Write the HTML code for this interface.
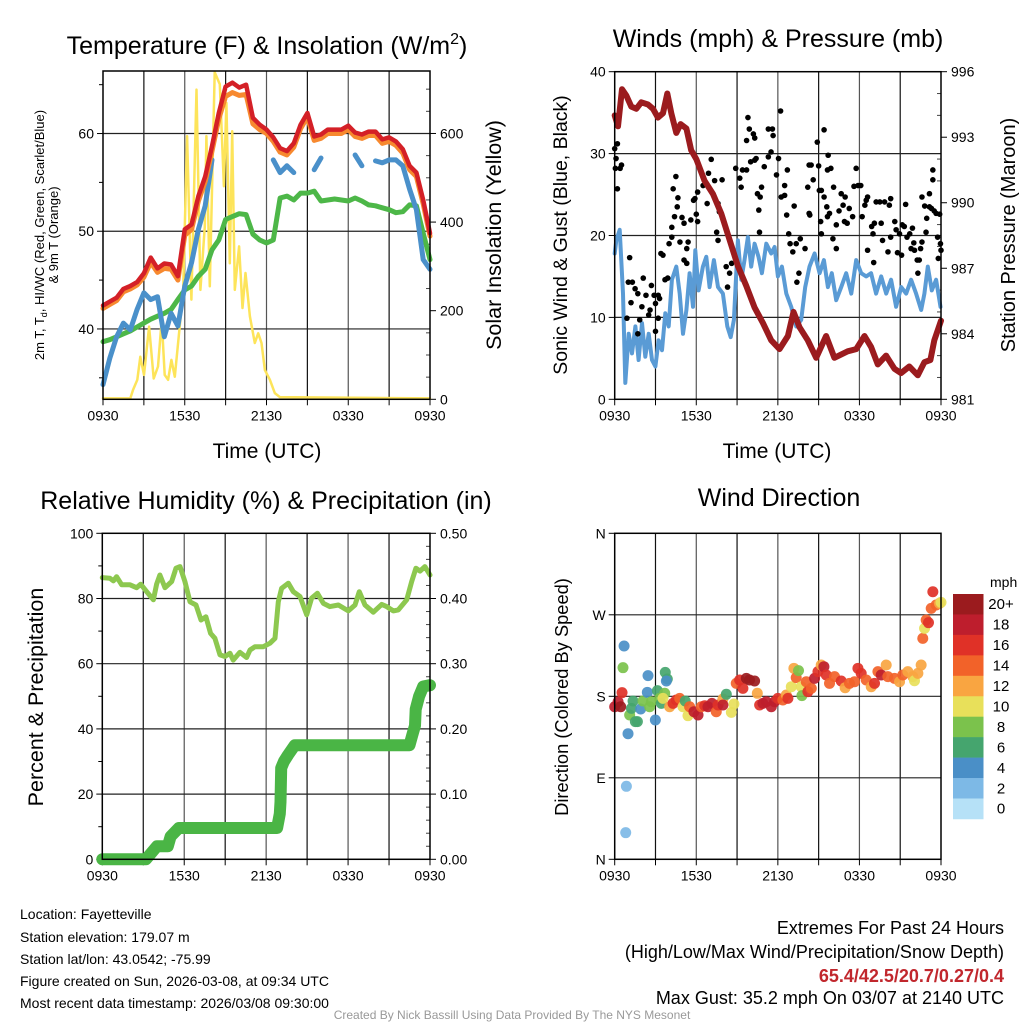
<!DOCTYPE html>
<html><head><meta charset="utf-8"><style>
html,body{margin:0;padding:0;background:#fff}
svg{display:block;font-family:"Liberation Sans",Arial,sans-serif}
</style></head><body>
<svg id="c" width="1024" height="1024" viewBox="0 0 1024 1024" xmlns="http://www.w3.org/2000/svg">
<rect width="1024" height="1024" fill="#fff"/>
<text x="267" y="54" font-size="25" text-anchor="middle">Temperature (F) &amp; Insolation (W/m<tspan dy="-10" font-size="16">2</tspan><tspan dy="10">)</tspan></text>
<text x="778" y="47" font-size="25" text-anchor="middle">Winds (mph) &amp; Pressure (mb)</text>
<text x="266" y="509" font-size="25" text-anchor="middle">Relative Humidity (%) &amp; Precipitation (in)</text>
<text x="779" y="506" font-size="25" text-anchor="middle">Wind Direction</text>

<text x="267" y="458" font-size="21" text-anchor="middle">Time (UTC)</text>
<text x="777" y="458" font-size="21" text-anchor="middle">Time (UTC)</text>

<g transform="translate(44,235) rotate(-90)">
<text x="0" y="0" font-size="13" text-anchor="middle">2m T, T<tspan font-size="9" dy="3">d</tspan><tspan dy="-3">, HI/WC (Red, Green, Scarlet/Blue)</tspan></text>
<text x="0" y="14" font-size="13" text-anchor="middle">&amp; 9m T (Orange)</text>
</g>
<text transform="translate(501,235) rotate(-90)" font-size="21.5" text-anchor="middle">Solar Insolation (Yellow)</text>
<text transform="translate(567,235) rotate(-90)" font-size="19.5" text-anchor="middle">Sonic Wind &amp; Gust (Blue, Black)</text>
<text transform="translate(1015,235) rotate(-90)" font-size="20" text-anchor="middle">Station Pressure (Maroon)</text>
<text transform="translate(43,697) rotate(-90)" font-size="21.5" text-anchor="middle">Percent &amp; Precipitation</text>
<text transform="translate(568,697) rotate(-90)" font-size="18.3" text-anchor="middle">Direction (Colored By Speed)</text>

<g font-size="14">
<text x="20" y="919">Location: Fayetteville</text>
<text x="20" y="942">Station elevation: 179.07 m</text>
<text x="20" y="964">Station lat/lon: 43.0542; -75.99</text>
<text x="20" y="986">Figure created on Sun, 2026-03-08, at 09:34 UTC</text>
<text x="20" y="1008">Most recent data timestamp: 2026/03/08 09:30:00</text>
</g>
<g font-size="18" text-anchor="end">
<text x="1004" y="934">Extremes For Past 24 Hours</text>
<text x="1004" y="958">(High/Low/Max Wind/Precipitation/Snow Depth)</text>
<text x="1004" y="982" fill="#C1272D" font-weight="bold">65.4/42.5/20.7/0.27/0.4</text>
<text x="1004" y="1004">Max Gust: 35.2 mph On 03/07 at 2140 UTC</text>
</g>
<text x="512" y="1019" font-size="12" fill="#999" text-anchor="middle">Created By Nick Bassill Using Data Provided By The NYS Mesonet</text>
</svg>
<script>
// ---------- data ----------
const timeTickLabels = ["0930","1530","2130","0330","0930"];
const tempHours = [0,0.5,1,1.5,2,2.5,3,3.5,4,4.5,5,5.5,6,6.5,7,7.5,8,8.5,9,9.5,10,10.5,11,11.5,12,12.5,13,13.5,14,14.5,15,15.5,16,16.5,17,17.5,18,18.5,19,19.5,20,20.5,21,21.5,22,22.5,23,23.5,24];
const temp2m = [42.4,42.8,43.2,44.1,44.4,44.8,45.7,47.3,46.2,46.7,46.6,45.4,50.2,50.7,53.6,55.6,58.7,62.1,64.8,65.2,64.7,65,61.6,60.9,60.4,59.6,58.5,58.2,59,60.9,62.1,59.7,59.9,60.4,60.4,60.4,60.8,60.1,59.9,60.2,60.2,59.4,59.6,59.2,58.4,56.7,56,53.2,49.8];
const temp9m = [42.1,42.5,42.9,43.8,44.1,44.5,45.3,46.8,45.8,46.2,46.1,45.0,49.6,50.2,53.1,55.1,58.2,61.5,63.8,64.2,63.9,64,61,60.4,60.0,59.2,58.1,57.8,58.6,60.5,61.7,59.3,59.5,60.0,60.0,60.0,60.4,59.7,59.5,59.8,59.8,59.0,59.2,58.8,58.0,56.3,55.6,52.8,49.5];
const heatWindChill = [34.3,37,39.2,40.6,39.9,42,43.7,43,43.3,39.2,41.6,40.3,44.4,46.8,50.2,52.6,57.3,null,null,null,null,null,null,null,null,57.3,56,56.7,56,null,null,56.3,57.5,null,null,null,null,57.8,56.7,null,57.2,57.0,57.3,57.3,56.7,54.3,52.2,47.1,46.1];
const dewpoint = [38.7,38.9,39.2,39.5,39.8,40.2,40.6,41,41.3,41.6,42,43,44,44.4,45.4,46.1,48.1,49.1,51.2,51.5,51.8,51.7,49.7,49.1,48.8,49.1,53.4,53.6,53.2,53.9,53.9,54.1,53.1,53.2,53.3,53.2,53.1,53.4,53.1,52.7,52.6,52.4,52.2,51.9,52.0,52.7,52.6,49.8,47.1];
const solarHours = [0,2.0,2.2,2.52,2.74,3.01,3.38,3.72,4.04,4.31,4.53,4.78,5.02,5.27,5.63,5.88,6.17,6.49,6.86,7.15,7.47,7.59,7.84,8.2,8.57,8.87,9.06,9.31,9.48,9.67,9.99,10.24,10.46,10.78,11.14,11.39,11.63,11.88,12.25,12.61,12.98,24];
const solarWatts = [2,2,21,44,96,55,164,47,74,179,55,44,89,51,164,240,594,225,699,247,390,594,255,738,711,481,669,307,605,247,345,206,285,187,127,149,127,66,44,14,5,2];
const pressHours = [0,0.24,0.54,0.86,1.22,1.59,1.96,2.45,2.82,3.18,3.55,3.87,4.16,4.53,4.85,5.27,5.63,6.0,6.61,7.23,7.84,8.45,9.06,9.67,10.29,10.9,11.51,12.12,12.74,13.15,13.59,14.2,14.82,15.55,16.16,17.14,17.76,18.37,18.86,19.35,19.96,20.57,21.06,21.67,22.29,22.78,23.22,23.51,24];
const pressure = [994.0,993.5,995.2,994.9,994.4,994.3,994.6,994.5,994.3,993.9,994.1,995.0,994.1,993.2,993.6,993.4,992.4,992.0,991.0,990.4,989.5,988.3,987.1,986.2,985.2,984.5,983.7,983.3,983.9,985.0,984.3,983.7,982.9,983.9,982.9,983.2,983.3,983.9,983.4,982.6,983.0,982.4,982.2,982.5,982.1,982.7,982.8,983.7,984.6];
const windHours = [0,0.12,0.37,0.61,0.78,1.03,1.27,1.52,1.76,2.01,2.25,2.5,2.74,2.99,3.23,3.48,3.72,3.97,4.21,4.53,4.78,5.02,5.27,5.51,5.76,5.93,6.17,6.49,6.74,6.98,7.3,7.6,7.96,8.28,8.53,8.77,9.06,9.31,9.55,9.8,10.04,10.29,10.58,10.83,11.15,11.51,11.76,12.0,12.3,12.62,12.98,13.35,13.72,14.01,14.33,14.7,15.07,15.39,15.68,15.97,16.29,16.66,17.03,17.4,17.76,18.13,18.5,18.86,19.23,19.6,19.97,20.33,20.7,21.07,21.44,21.8,22.17,22.54,22.78,23.03,23.32,23.64,23.96];
const windSpeed = [17.8,19.4,20.7,12.9,2,8,5.6,8.9,4.8,9.3,5.2,8,4.8,4,7.2,6,10.5,8.9,14.6,16.2,12.9,8,10.9,15.4,11.3,18.2,13.3,16.2,17.4,13.7,17,13.7,12.9,8.9,7.6,9.7,19.4,14.6,17,19.8,16.2,19,17.4,15.4,19,17.8,18.6,15,16.2,12.9,11.3,8.9,9.7,13.7,16.2,17.8,15.4,17,13.7,15.4,12.1,13.7,15.4,12.9,17,15.4,15,15.4,12.9,15,12.9,14.6,11.3,13.7,12.9,14.6,12.9,10.9,12.9,16.2,13.3,14.6,11.3];
const gustHours = [0,0.1,0.2,0.2,0.05,0.5,0.4,1.1,1,1.3,0.9,1.2,1.5,1.7,1.84,1.7,2,2.1,2.3,2.6,2.5,2.7,2.9,3.2,3.3,3,3.2,3,3.4,3.55,3.7,3.9,4,4.2,4.3,4.5,4.65,4.6,4.4,4.2,4.8,4.95,5.1,5.4,5.3,5.1,5.3,5.8,5.9,6.1,6,6.1,5.6,6.5,6.6,6.9,6.8,7.1,7.35,7.6,7.5,7.6,7.7,7.9,8.2,8.45,8.3,8.6,8.9,9.2,9.3,9.4,9.7,9.8,9.9,10.2,10.3,9.7,10.3,10,10.4,10.5,10.7,10.8,10.65,10.6,11,11.3,11.6,11.65,11.5,11.3,11.9,12.05,12.2,12.25,12.5,12.5,12.7,12.65,12.9,12.8,13.1,13.2,13.35,13.65,13.4,13.55,14,14.2,14.3,14.45,14.35,14.3,14.6,14.9,15,15.05,15.2,15.4,15.6,15.15,15.2,15.4,15.7,15.9,15.65,15.8,15.65,16.05,16.3,16.1,16.3,16.5,16.66,16.8,16.95,16.9,17.1,17.25,17.5,17.6,17.76,17.9,18.1,18.2,18.4,18.5,18.6,18.6,18.9,19,19.05,19.1,19.23,19.5,19.6,19.7,19.85,20.1,20.2,20.3,20.3,20.6,20.7,20.8,20.95,21.1,21.15,21.3,21.4,21.5,21.7,21.8,21.9,22,22.05,22.25,22.3,22.4,22.5,22.6,22.6,22.8,22.9,23.15,22.95,23.15,23.4,23.4,23.3,23.5,23.64,23.9,23.75,23.8,23.96,24];
const gustSpeed = [30.6,29.4,31.2,25.7,28.2,28.6,28.2,17.3,14.3,14.3,9.9,11.8,13.5,12.9,9.7,8,11.3,14.8,12.7,10.9,10.3,13.9,12.7,12.7,12.3,11.7,9.9,8.3,17.8,17.6,14.6,14.8,19,19.8,25.7,27.2,24.6,23.5,22.3,21,19.2,22.2,21.5,19.2,18.4,17,16.6,24.3,24.5,25.3,22.6,21.7,21.9,26.1,26.7,27.6,23.9,29.3,26.7,23.9,20.4,19.4,22.9,26.8,16.2,15.4,13.7,16.6,28.2,27,25.9,28,28,34.4,33,32.4,31.9,31.6,29.2,29,29.4,25.1,24.7,25.9,20.4,23.1,28.4,33,33,32.2,30.2,29.6,27.4,29.4,35.2,24.7,24.9,26.1,28,22.5,19,20.2,18,23.6,19,19.6,14.3,15.4,18.4,25.9,28.6,28.6,22.5,22.7,26.8,31.4,28.5,25.5,25.5,24.7,23.5,21.7,20.2,32.9,29.8,28.2,28,22.7,22.3,19.6,18.4,25.9,21.3,23,25.1,23.7,24.7,21.7,21.5,23.3,22.3,26,28.2,26.1,26.1,22.3,23.7,24.3,24.7,18.2,21.1,20.2,16.7,21.5,24.1,24.1,21.5,19.4,24.1,18,23.7,24.5,19.8,21.7,20.7,17.9,20.2,17.6,21.3,21.1,23.8,19.8,20.2,18.4,20.9,19.1,18.2,17,15.4,17,18.4,19.2,24.7,23.6,20.4,25.1,22.1,23.5,28,26.8,23.3,23,22.7,22.6,19.8,17.2,19,18.2];
const rhHours = [0,0.56,0.81,1.05,1.42,2.03,2.51,2.81,3.25,3.74,3.98,4.22,4.59,5.08,5.4,5.69,6.05,6.42,6.86,7.23,7.59,7.93,8.25,8.62,8.98,9.35,9.59,10.08,10.57,10.82,11.18,11.79,12.28,12.65,12.89,13.13,13.62,13.99,14.48,14.97,15.33,15.75,16.19,16.67,17.29,18.02,18.51,18.82,19.24,19.85,20.46,20.83,21.31,21.68,22.29,22.66,22.97,23.27,23.63,24];
const relHumidity = [86.4,86.2,85.4,86.7,84.2,84.2,83.3,84.4,82.1,79.6,84.4,87.2,83.3,85.2,89.3,89.8,85.2,79,78,73.4,74.4,69.3,67.8,62.7,62.2,63.2,61.1,63.5,61.9,64.2,65.2,65.2,66.3,67.8,79,83.1,84.7,82.1,80.6,75,80.1,81.6,78.5,77.5,78,76.2,78,82.1,78,75.8,78.2,77.5,76.2,76.5,79.6,85.2,89.3,88.4,89.8,87.2];
const precipHours = [0,3.2,3.6,4.0,4.8,5.0,5.6,12.8,13.0,13.05,13.1,13.3,13.6,14.1,22.5,22.7,22.9,22.95,23.2,23.5,24];
const precipInches = [0,0,0.01,0.02,0.02,0.035,0.048,0.048,0.07,0.088,0.14,0.15,0.16,0.175,0.175,0.19,0.205,0.23,0.25,0.265,0.267];
const dirHours = [0,0.25,0.44,0.54,0.69,0.61,0.98,0.86,0.81,1.1,1.23,1.35,1.67,1.52,1.91,2.08,2.4,2.45,2.57,2.7,2.99,3.14,3.31,3.43,3.68,3.72,3.87,3.8,3.55,4.04,4.29,4.53,4.78,5.02,5.19,5.39,5.51,5.83,6.13,6.37,6.62,6.86,7.15,7.47,7.6,7.96,8.21,7.96,8.58,8.77,8.94,9.19,9.43,9.68,9.92,10.29,10.49,10.66,10.9,11.15,11.52,11.76,12.0,12.37,12.62,12.74,12.99,13.18,13.35,13.52,13.72,13.77,14.09,14.21,14.46,14.7,14.95,15.19,15.39,15.56,15.8,16.17,16.66,16.95,17.27,17.64,17.89,18.13,18.5,18.87,19.11,19.36,19.6,19.97,20.09,20.58,20.95,21.19,21.56,21.93,22.05,22.3,22.54,22.66,22.79,22.91,23.08,23.28,23.4,23.64,23.89,24];
const dirDegrees = [168.5,174,168.5,184,235.5,211.6,138.7,80.6,29.4,159.3,166.7,174.8,152,152,166,174.8,184.4,202.8,168.5,174,153.8,186.2,177.7,172.2,183.3,206.4,199.1,196.9,177.7,168.5,172.2,175.9,177.7,168.5,174.8,158.6,168.5,163,159.3,168.5,169.6,168.5,172.2,163,170.4,177,182.2,170.4,162.3,171.5,194.3,198,188.8,199.8,198,196.9,183.3,170.4,172.2,174,168.5,174,177.7,175.9,181.4,177.7,190.6,210.9,200.6,208.3,190.6,180.7,196.1,185.1,188.8,199.8,207.2,214.5,212.7,203.5,194.3,201.7,196.9,189.5,194.3,196.1,210.9,205.3,198,190.6,194.3,207.2,203.5,214.5,201.7,199.8,196.1,203.5,207.2,201.7,197.2,205.3,214.5,244,255,264.2,261.3,277.1,295.5,280.8,282.6,283.7];
const dirSpeed = [18,18,20,16,4,8,4,2,2,8,6,6,6,6,4,8,4,4,8,8,4,6,8,6,8,6,6,4,10,12,16,16,14,10,6,10,14,18,18,14,16,18,18,14,16,12,6,18,10,10,14,16,16,20,20,20,12,16,18,18,18,18,16,14,12,16,10,12,14,8,10,8,14,16,14,18,16,12,18,16,14,14,16,12,14,14,16,16,14,12,16,14,18,12,14,14,12,14,12,12,10,12,12,14,10,14,16,14,16,14,12,10];
const speedBinLabels = ["0","2","4","6","8","10","12","14","16","18","20+"];
const speedBinColors = ["#B6E1F7","#7DB9E6","#4A8FC7","#45A56E","#7BC24C","#E8E05A","#F9A541","#F26229","#E03127","#BE1E2D","#9B1B1E"];

// ---------- helpers ----------
const NS="http://www.w3.org/2000/svg";
const svg=document.getElementById('c');
function mk(tag,attrs,parent){const e=document.createElementNS(NS,tag);for(const k in attrs)e.setAttribute(k,attrs[k]);(parent||svg).appendChild(e);return e;}
function lin(d0,d1,r0,r1){return v=>r0+(v-d0)/(d1-d0)*(r1-r0);}
function pathFrom(xs,ys,sx,sy){let d="",pen=false;for(let i=0;i<xs.length;i++){if(ys[i]===null){pen=false;continue;}d+=(pen?"L":"M")+sx(xs[i]).toFixed(1)+","+sy(ys[i]).toFixed(1);pen=true;}return d;}

function panel(P,name){
  const g=mk('g',{});
  
  
  const sx=lin(0,24,P.x0,P.x1);
  for(let h=3;h<24;h+=3){const l=mk('line',{x1:sx(h),x2:sx(h),y1:P.top,y2:P.bot,stroke:(h%6===0?'#555':'#111'),'stroke-width':1.2},g);}
  P.hgrid.forEach(v=>{const y=P.sl(v);const l=mk('line',{x1:P.x0,x2:P.x1,y1:y,y2:y,stroke:'#222','stroke-width':1.2},g);});
  for(let h=0;h<=24;h+=3){mk('line',{x1:sx(h),x2:sx(h),y1:P.bot,y2:P.bot+6,stroke:'#000','stroke-width':1},g);}
  timeTickLabels.forEach((t,i)=>{const tx=mk('text',{x:sx(i*6),y:P.bot+21,'font-size':14,'text-anchor':'middle'},g);tx.textContent=t;});
  P.lt.forEach((v,i)=>{const y=P.sl(v);mk('line',{x1:P.x0-6,x2:P.x0,y1:y,y2:y,stroke:'#000'},g);const tx=mk('text',{x:P.x0-9,y:y+5,'font-size':14,'text-anchor':'end'},g);tx.textContent=P.ll[i];});
  (P.lminor||[]).forEach(v=>{const y=P.sl(v);mk('line',{x1:P.x0-4,x2:P.x0,y1:y,y2:y,stroke:'#000'},g);});
  (P.rt||[]).forEach((v,i)=>{const y=P.sr(v);mk('line',{x1:P.x1,x2:P.x1+6,y1:y,y2:y,stroke:'#000'},g);const tx=mk('text',{x:P.x1+10,y:y+5,'font-size':14},g);tx.textContent=P.rl[i];});
  (P.rminor||[]).forEach(v=>{const y=P.sr(v);mk('line',{x1:P.x1-4,x2:P.x1,y1:y,y2:y,stroke:'#444'},g);});
  return {sx,g};
}
function frame(P,name){const r=mk('rect',{x:P.x0,y:P.top,width:P.x1-P.x0,height:P.bot-P.top,fill:'none',stroke:'#000','stroke-width':1.5});}
function line(xs,ys,sx,sy,color,w,name){const p=mk('path',{d:pathFrom(xs,ys,sx,sy),fill:'none',stroke:color,'stroke-width':w,'stroke-linejoin':'round','stroke-linecap':'round'});return p;}

// ---------- panel 1 ----------
const P1={x0:103,x1:430,top:71,bot:399.3};
P1.sl=lin(32.8,66.4,P1.bot,P1.top);P1.sr=lin(0,741,P1.bot,P1.top);
P1.hgrid=[40,50,60];P1.lt=[40,50,60];P1.ll=["40","50","60"];P1.lminor=[35,45,55,65];
P1.rt=[0,200,400,600];P1.rl=["0","200","400","600"];P1.rminor=[50,100,150,250,300,350,450,500,550,650,700];
const a1=panel(P1,'temp');
line(solarHours,solarWatts,a1.sx,P1.sr,'#FDE45A',2.5,'insolation-line');
line(tempHours,dewpoint,a1.sx,P1.sl,'#4DB748',5,'dewpoint-line');
line(tempHours,heatWindChill,a1.sx,P1.sl,'#4A90CA',5,'heat-index-windchill-line');
line(tempHours,temp9m,a1.sx,P1.sl,'#F7892F',5,'temp-9m-line');
line(tempHours,temp2m,a1.sx,P1.sl,'#D42027',4.5,'temp-2m-line');
frame(P1,'temp');

// ---------- panel 2 ----------
const P2={x0:614.7,x1:941,top:71.7,bot:399.3};
P2.sl=lin(0,40,P2.bot,P2.top);P2.sr=lin(981,996,P2.bot,P2.top);
P2.hgrid=[10,20,30];P2.lt=[0,10,20,30,40];P2.ll=["0","10","20","30","40"];P2.lminor=[];
P2.rt=[981,984,987,990,993,996];P2.rl=["981","984","987","990","993","996"];P2.rminor=[982,983,985,986,988,989,991,992,994,995];
const a2=panel(P2,'wind');
line(windHours,windSpeed,a2.sx,P2.sl,'#5A9BD5',4,'wind-speed-line');
gustHours.forEach((h,i)=>{const c=mk('circle',{cx:a2.sx(h),cy:P2.sl(gustSpeed[i]),r:2.8,fill:'#000'});

});
line(pressHours,pressure,a2.sx,P2.sr,'#9B1B1E',6,'pressure-line');
frame(P2,'wind');

// ---------- panel 3 ----------
const P3={x0:102.3,x1:430,top:533.3,bot:859.3};
P3.sl=lin(0,100,P3.bot,P3.top);P3.sr=lin(0,0.5,P3.bot,P3.top);
P3.hgrid=[20,40,60,80];P3.lt=[0,20,40,60,80,100];P3.ll=["0","20","40","60","80","100"];P3.lminor=[10,30,50,70,90];
P3.rt=[0,0.1,0.2,0.3,0.4,0.5];P3.rl=["0.00","0.10","0.20","0.30","0.40","0.50"];P3.rminor=[0.02,0.04,0.06,0.08,0.12,0.14,0.16,0.18,0.22,0.24,0.26,0.28,0.32,0.34,0.36,0.38,0.42,0.44,0.46,0.48];
const a3=panel(P3,'rh');
line(rhHours,relHumidity,a3.sx,P3.sl,'#8DC84F',5,'rh-line');
line(precipHours,precipInches,a3.sx,P3.sr,'#4AB545',12,'precip-line');
frame(P3,'rh');

// ---------- panel 4 ----------
const P4={x0:614.7,x1:941,top:533.3,bot:859.3};
P4.sl=lin(0,360,P4.bot,P4.top);
P4.hgrid=[90,180,270];P4.lt=[0,90,180,270,360];P4.ll=["N","E","S","W","N"];P4.lminor=[];
const a4=panel(P4,'direction');
dirHours.forEach((h,i)=>{const bin=Math.min(10,Math.round(dirSpeed[i]/2));const c=mk('circle',{cx:a4.sx(h),cy:P4.sl(dirDegrees[i]),r:5.5,fill:speedBinColors[bin],'fill-opacity':0.92});

});
frame(P4,'direction');

// colorbar
const cb=mk('g',{});


const cbTop=594,cbH=20.45;
const mt=mk('text',{x:990,y:587,'font-size':14},cb);mt.textContent='mph';
speedBinLabels.forEach((lab,i)=>{const k=10-i;const y=cbTop+i*cbH;
  const r=mk('rect',{x:953,y:y,width:30.5,height:cbH+0.3,fill:speedBinColors[k]},cb);
  
  
  const t=mk('text',{x:1001,y:y+cbH/2+5,'font-size':15,'text-anchor':'middle'},cb);t.textContent=speedBinLabels[k];
  
  });
</script>
</body></html>
